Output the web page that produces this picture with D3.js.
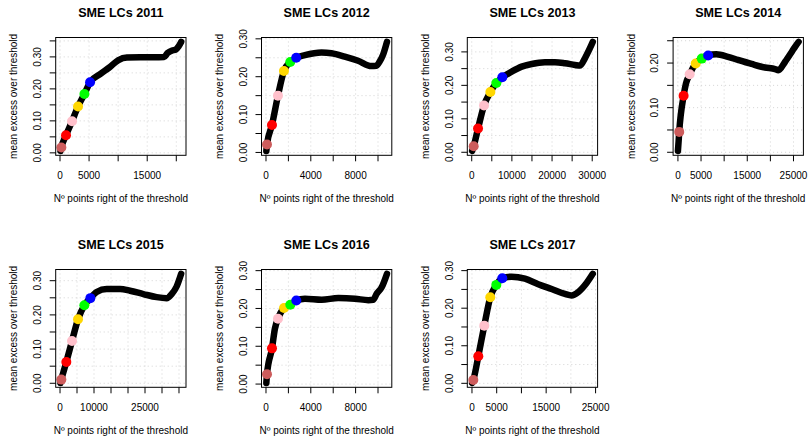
<!DOCTYPE html>
<html>
<head>
<meta charset="utf-8">
<script src="https://cdn.jsdelivr.net/npm/d3@7"></script>
<style>
body { margin: 0; background: #fff; }
text { font-family: "Liberation Sans", Arial, Helvetica, sans-serif; }
</style>
</head>
<body>
<div id="main"></div>
<script>

//=============== DATA ===================
var years = [2011, 2012, 2013, 2014, 2015, 2016, 2017];

// mean excess curve: [n points right of the threshold, mean excess]
var me2011 = [[90,.006],[230,.017],[1034,.055],[2070,.099],[3100,.145],[4200,.184],[5170,.221],[6900,.246],[8620,.269],[10060,.29],[11500,.298],[13800,.299],[16100,.299],[17900,.300],[18500,.312],[19300,.320],[19900,.323],[20400,.333],[20840,.347]];
var me2012 = [[30,.004],[89,.021],[534,.0726],[1068,.150],[1602,.215],[2166,.239],[2700,.250],[3470,.257],[4955,.264],[5845,.262],[7030,.253],[8220,.242],[9400,.228],[9850,.229],[10150,.240],[10445,.2575],[10800,.292]];
var me2013 = [[100,.004],[490,.018],[1570,.071],[3060,.140],[4640,.180],[6130,.207],[7620,.224],[9950,.241],[12440,.256],[14930,.264],[18230,.269],[20720,.269],[23210,.266],[25700,.261],[26940,.259],[28180,.281],[29430,.311],[30140,.330]];
var me2014 = [[0,.003],[150,.025],[280,.0457],[1230,.1266],[1740,.154],[2540,.175],[3850,.199],[5160,.210],[6540,.217],[8290,.2195],[10830,.214],[13000,.207],[15920,.198],[18830,.190],[21010,.1865],[21730,.184],[23190,.203],[24650,.2255],[25370,.237],[26100,.2475]];
var me2015 = [[150,.001],[390,.0107],[1860,.0623],[3530,.1237],[5290,.187],[7160,.228],[8920,.249],[10780,.267],[13730,.2756],[17650,.2756],[20590,.2707],[24500,.261],[28430,.252],[31370,.249],[32840,.261],[34310,.283],[35640,.32]];
var me2016 = [[30,.003],[89,.026],[536,.0945],[800,.147],[1071,.173],[1607,.201],[2173,.210],[2708,.221],[3480,.2257],[4970,.223],[6460,.2275],[7950,.2257],[9140,.222],[9580,.223],[9880,.239],[10330,.256],[10800,.2915]];
var me2017 = [[30,.001],[270,.009],[1280,.072],[2490,.1535],[3700,.229],[4920,.262],[6130,.2795],[8020,.284],[10710,.2786],[13400,.264],[16100,.251],[18790,.238],[20140,.234],[21490,.243],[23180,.267],[24430,.2914]];

// coloured threshold markers
var mk2011 = [[230,.017],[1034,.055],[2070,.099],[3100,.145],[4200,.184],[5170,.221]];
var mk2012 = [[89,.021],[534,.0726],[1068,.150],[1602,.215],[2166,.239],[2700,.250]];
var mk2013 = [[490,.018],[1570,.071],[3060,.140],[4640,.180],[6130,.207],[7620,.224]];
var mk2014 = [[280,.0457],[1230,.1266],[2540,.175],[3850,.199],[5160,.210],[6540,.217]];
var mk2015 = [[390,.0107],[1860,.0623],[3530,.1237],[5290,.187],[7160,.228],[8920,.249]];
var mk2016 = [[89,.026],[536,.0945],[1071,.173],[1607,.201],[2173,.210],[2708,.221]];
var mk2017 = [[270,.009],[1280,.072],[2490,.1535],[3700,.229],[4920,.262],[6130,.2795]];

var markColors = ["#CD5C5C", "#FF0000", "#FFC0CB", "#FFD700", "#00FF00", "#0000FF"];

var xTicks = [
	[0,5000,10000,15000,20000],
	[0,2000,4000,6000,8000,10000],
	[0,5000,10000,15000,20000,25000,30000],
	[0,5000,10000,15000,20000,25000],
	[0,5000,10000,15000,20000,25000,30000,35000],
	[0,2000,4000,6000,8000,10000],
	[0,5000,10000,15000,20000,25000]
];
var xLabels = [
	[0,5000,15000],
	[0,4000,8000],
	[0,10000,20000,30000],
	[0,5000,15000,25000],
	[0,10000,25000],
	[0,4000,8000],
	[0,5000,15000,25000]
];
var yTicks = [
	[0,.05,.10,.15,.20,.25,.30,.35],
	[0,.05,.10,.15,.20,.25,.30],
	[0,.05,.10,.15,.20,.25,.30],
	[0,.05,.10,.15,.20,.25],
	[0,.05,.10,.15,.20,.25,.30],
	[0,.05,.10,.15,.20,.25,.30],
	[0,.05,.10,.15,.20,.25,.30]
];
var yLabels = [
	[0,.10,.20,.30],
	[0,.10,.20,.30],
	[0,.10,.20,.30],
	[0,.10,.20],
	[0,.10,.20,.30],
	[0,.10,.20,.30],
	[0,.10,.20,.30]
];

var curves = [me2011, me2012, me2013, me2014, me2015, me2016, me2017];
var marks = [mk2011, mk2012, mk2013, mk2014, mk2015, mk2016, mk2017];

//=============== LAYOUT ===================
var width = 810,
	height = 436,
	boxW = 130.3,
	boxH = 117.8,
	colStep = 205.8,
	left0 = 55.7,
	rowTop = [37.5, 269.5];

var svg = d3.select("#main").append("svg")
	.attr("width", width)
	.attr("height", height);

svg.append("rect")
	.attr("width", width)
	.attr("height", height)
	.attr("fill", "#fff");

// R style 4% padding around the data range
function padded(ext){
	var r = ext[1] - ext[0];
	return [ext[0] - .04*r, ext[1] + .04*r];
}

var fmt2 = d3.format(".2f");

years.forEach(function(yr, i){

	var col = i % 4,
		row = Math.floor(i / 4),
		bx = left0 + col*colStep,
		by = rowTop[row];

	var data = curves[i];

	var x = d3.scaleLinear()
		.domain(padded(d3.extent(data, function(d){ return d[0]; })))
		.range([bx, bx + boxW]);

	var y = d3.scaleLinear()
		.domain(padded(d3.extent(data, function(d){ return d[1]; })))
		.range([by + boxH, by]);

	var g = svg.append("g").attr("class", "panel p" + yr);

	var clipId = "clip" + yr;
	g.append("clipPath").attr("id", clipId)
		.append("rect")
		.attr("x", bx).attr("y", by)
		.attr("width", boxW).attr("height", boxH);

	// dotted grid
	g.selectAll(".gx")
		.data(xTicks[i])
		.enter().append("line")
		.attr("x1", function(d){ return x(d); })
		.attr("x2", function(d){ return x(d); })
		.attr("y1", by).attr("y2", by + boxH)
		.attr("stroke", "#D3D3D3")
		.attr("stroke-dasharray", "1,3");

	g.selectAll(".gy")
		.data(yTicks[i])
		.enter().append("line")
		.attr("y1", function(d){ return y(d); })
		.attr("y2", function(d){ return y(d); })
		.attr("x1", bx).attr("x2", bx + boxW)
		.attr("stroke", "#D3D3D3")
		.attr("stroke-dasharray", "1,3");

	var plot = g.append("g").attr("clip-path", "url(#" + clipId + ")");

	var line = d3.line()
		.x(function(d){ return x(d[0]); })
		.y(function(d){ return y(d[1]); })
		.curve(d3.curveMonotoneX);

	plot.append("path")
		.datum(data)
		.attr("d", line)
		.attr("fill", "none")
		.attr("stroke", "#000")
		.attr("stroke-width", 6.5)
		.attr("stroke-linecap", "round")
		.attr("stroke-linejoin", "round");

	plot.selectAll(".mk")
		.data(marks[i])
		.enter().append("circle")
		.attr("cx", function(d){ return x(d[0]); })
		.attr("cy", function(d){ return y(d[1]); })
		.attr("r", 5)
		.attr("fill", function(d, j){ return markColors[j]; });

	// box
	g.append("rect")
		.attr("x", bx).attr("y", by)
		.attr("width", boxW).attr("height", boxH)
		.attr("fill", "none")
		.attr("stroke", "#000");

	// x axis
	g.selectAll(".tx")
		.data(xTicks[i])
		.enter().append("line")
		.attr("x1", function(d){ return x(d); })
		.attr("x2", function(d){ return x(d); })
		.attr("y1", by + boxH).attr("y2", by + boxH + 6)
		.attr("stroke", "#000");

	g.selectAll(".lx")
		.data(xLabels[i])
		.enter().append("text")
		.attr("x", function(d){ return x(d); })
		.attr("y", by + boxH + 23.3)
		.attr("text-anchor", "middle")
		.attr("font-size", "10px")
		.text(function(d){ return d; });

	// y axis
	g.selectAll(".ty")
		.data(yTicks[i])
		.enter().append("line")
		.attr("y1", function(d){ return y(d); })
		.attr("y2", function(d){ return y(d); })
		.attr("x1", bx).attr("x2", bx - 6)
		.attr("stroke", "#000");

	g.selectAll(".ly")
		.data(yLabels[i])
		.enter().append("text")
		.attr("transform", function(d){
			return "translate(" + (bx - 14.8) + "," + y(d) + ") rotate(-90)";
		})
		.attr("text-anchor", "middle")
		.attr("font-size", "10px")
		.text(function(d){ return fmt2(d); });

	// titles
	g.append("text")
		.attr("x", bx + boxW/2)
		.attr("y", by - 21)
		.attr("text-anchor", "middle")
		.attr("font-size", "12.6px")
		.attr("font-weight", "bold")
		.text("SME LCs " + yr);

	g.append("text")
		.attr("x", bx + boxW/2)
		.attr("y", by + boxH + 46.7)
		.attr("text-anchor", "middle")
		.attr("font-size", "10px")
		.text("Nº points right of the threshold");

	g.append("text")
		.attr("transform", "translate(" + (bx - 38.4) + "," + (by + boxH/2) + ") rotate(-90)")
		.attr("text-anchor", "middle")
		.attr("font-size", "10px")
		.text("mean excess over threshold");
});

</script>
</body>
</html>
